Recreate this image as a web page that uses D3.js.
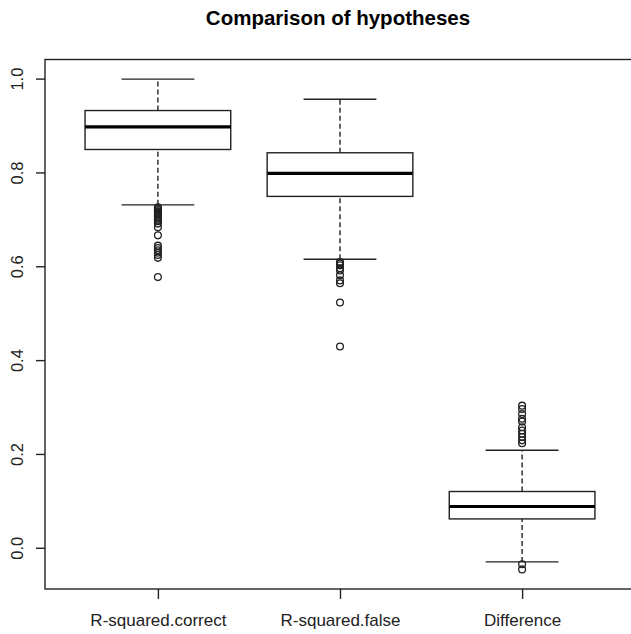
<!DOCTYPE html>
<html>
<head>
<meta charset="utf-8">
<script src="https://cdn.jsdelivr.net/npm/d3@7"></script>
<style>
  body { margin: 0; background: #fff; }
  svg { display: block; font-family: "Liberation Sans", Arial, sans-serif; }
</style>
</head>
<body>
<div id="root"></div>
<script>
const w = 631;
const h = 634;

// chart data
const groups = ["R-squared.correct", "R-squared.false", "Difference"];
const lowerWhisker = [0.732, 0.616, -0.029];
const q1 = [0.850, 0.750, 0.0626];
const medians = [0.898, 0.799, 0.089];
const q3 = [0.933, 0.843, 0.121];
const upperWhisker = [1.000, 0.957, 0.209];
const outliers = [
  [0.727, 0.724, 0.721, 0.718, 0.715, 0.712, 0.709, 0.706, 0.703, 0.700, 0.697,
   0.692, 0.684, 0.667, 0.645, 0.640, 0.635, 0.630, 0.625, 0.619, 0.578],
  [0.610, 0.607, 0.603, 0.597, 0.592, 0.582, 0.571, 0.565, 0.524, 0.430],
  [0.304, 0.297, 0.286, 0.276, 0.270, 0.258, 0.251, 0.244, 0.237, 0.230, 0.224,
   -0.034, -0.045]
];
const yTicks = [0.0, 0.2, 0.4, 0.6, 0.8, 1.0];

const plot = { left: 45, right: 635, top: 59.5, bottom: 589 };

const allVals = [].concat(lowerWhisker, upperWhisker, ...outliers);
const ymin = d3.min(allVals), ymax = d3.max(allVals);
const pad = (ymax - ymin) * 0.04;

const xScale = d3.scaleLinear()
  .domain([0.38, 3.62])
  .range([plot.left, plot.right]);

const yScale = d3.scaleLinear()
  .domain([ymin - pad, ymax + pad])
  .range([plot.bottom, plot.top]);

const svg = d3.select("#root")
  .append("svg")
  .attr("width", w)
  .attr("height", h);

// title
svg.append("text")
  .attr("x", 338)
  .attr("y", 25)
  .attr("text-anchor", "middle")
  .style("font-size", "20.5px")
  .style("font-weight", "bold")
  .text("Comparison of hypotheses");

const boxHalf = 0.4, capHalf = 0.2;
const stroke = "#222";

groups.forEach((g, i) => {
  const cx = i + 1;
  const grp = svg.append("g");

  // whiskers (dashed)
  [[q3[i], upperWhisker[i]], [lowerWhisker[i], q1[i]]].forEach(([a, b]) => {
    grp.append("line")
      .attr("x1", xScale(cx)).attr("x2", xScale(cx))
      .attr("y1", yScale(a)).attr("y2", yScale(b))
      .attr("stroke", stroke)
      .attr("stroke-width", 1.4)
      .attr("stroke-dasharray", "5,3");
  });

  // caps
  [upperWhisker[i], lowerWhisker[i]].forEach(v => {
    grp.append("line")
      .attr("x1", xScale(cx - capHalf)).attr("x2", xScale(cx + capHalf))
      .attr("y1", yScale(v)).attr("y2", yScale(v))
      .attr("stroke", stroke)
      .attr("stroke-width", 1.4);
  });

  // box
  grp.append("rect")
    .attr("x", xScale(cx - boxHalf))
    .attr("y", yScale(q3[i]))
    .attr("width", xScale(cx + boxHalf) - xScale(cx - boxHalf))
    .attr("height", yScale(q1[i]) - yScale(q3[i]))
    .attr("fill", "white")
    .attr("stroke", stroke)
    .attr("stroke-width", 1.4);

  // median
  grp.append("line")
    .attr("x1", xScale(cx - boxHalf)).attr("x2", xScale(cx + boxHalf))
    .attr("y1", yScale(medians[i])).attr("y2", yScale(medians[i]))
    .attr("stroke", "#000")
    .attr("stroke-width", 3.2);

  // outliers
  grp.selectAll("circle")
    .data(outliers[i])
    .enter()
    .append("circle")
    .attr("cx", xScale(cx))
    .attr("cy", d => yScale(d))
    .attr("r", 3.4)
    .attr("fill", "none")
    .attr("stroke", stroke)
    .attr("stroke-width", 1.3);
});

// y-axis
const yAxis = d3.axisLeft(yScale)
  .tickValues(yTicks)
  .tickSize(9)
  .tickPadding(0)
  .tickFormat(d3.format(".1f"));
const yg = svg.append("g")
  .attr("transform", "translate(" + plot.left + ",0)")
  .call(yAxis);
yg.select(".domain").remove();
yg.selectAll(".tick").attr("transform", null);
yg.selectAll(".tick line")
  .attr("y1", d => yScale(d)).attr("y2", d => yScale(d))
  .attr("stroke", stroke).attr("stroke-width", 1.4);
yg.selectAll("text")
  .attr("x", null).attr("dy", null).attr("y", 0)
  .attr("transform", d => "translate(" + (23 - plot.left) + "," + yScale(d) + ") rotate(-90)")
  .attr("text-anchor", "middle")
  .attr("fill", "#222")
  .style("font-size", "16.5px")
  .style("font-family", "'Liberation Sans', Arial, sans-serif");

// x-axis
const xAxis = d3.axisBottom(xScale)
  .tickValues([1, 2, 3])
  .tickSize(10)
  .tickPadding(15)
  .tickFormat(d => groups[d - 1]);
const xg = svg.append("g")
  .attr("transform", "translate(0," + plot.bottom + ")")
  .call(xAxis);
xg.select(".domain").remove();
xg.selectAll("line").attr("stroke", stroke).attr("stroke-width", 1.4);
xg.selectAll("text")
  .attr("fill", "#222")
  .style("font-size", "17px")
  .style("font-family", "'Liberation Sans', Arial, sans-serif");

// plot frame
svg.append("rect")
  .attr("x", plot.left)
  .attr("y", plot.top)
  .attr("width", plot.right - plot.left)
  .attr("height", plot.bottom - plot.top)
  .attr("fill", "none")
  .attr("stroke", stroke)
  .attr("stroke-width", 1.4);
</script>
</body>
</html>
